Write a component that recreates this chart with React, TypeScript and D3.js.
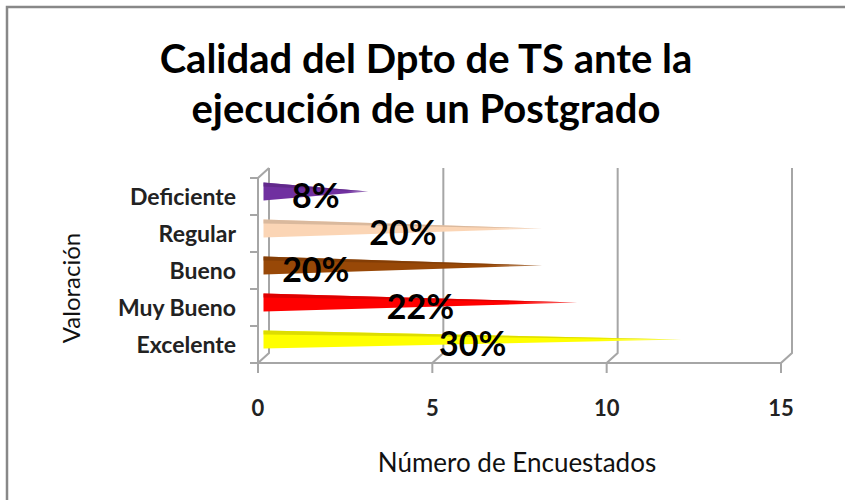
import React, { useEffect, useRef } from 'react';
import * as d3 from 'd3';

const categories = ['Deficiente', 'Regular', 'Bueno', 'Muy Bueno', 'Excelente'];
const respondents = [3, 8, 8, 9, 12];
const percentLabels = ['8%', '20%', '20%', '22%', '30%'];
const barColors = ['#7030A0', '#FBD5B5', '#984807', '#FF0000', '#FFFF00'];
const xTicks = [0, 5, 10, 15];
const titleLines = ['Calidad del Dpto de TS ante la', 'ejecución de un Postgrado'];

const App = () => {
  const ref = useRef<SVGSVGElement>(null);

  useEffect(() => {
    document.body.style.margin = '0';
    const svg = d3.select(ref.current);
    svg.selectAll('*').remove();

    const font = 'Lato, "Open Sans", sans-serif';
    const depth = { x: 11, y: -10 };
    const floorY = 363;

    const x = d3.scaleLinear().domain([0, 15]).range([258, 781]);
    const y = d3.scaleBand().domain(categories).range([178, floorY]);

    // outer frame, runs off the right and bottom edges
    svg.append('rect')
      .attr('x', 7).attr('y', 7)
      .attr('width', 900).attr('height', 600)
      .attr('fill', 'none')
      .attr('stroke', '#888')
      .attr('stroke-width', 2.5);

    svg.append('g')
      .selectAll('text')
      .data(titleLines)
      .join('text')
      .attr('x', 426)
      .attr('y', (d, i) => 73 + i * 50)
      .attr('text-anchor', 'middle')
      .attr('font-family', font)
      .attr('font-weight', 'bold')
      .attr('font-size', 40)
      .text(d => d);

    // walls and floor
    const grid = svg.append('g')
      .attr('fill', 'none')
      .attr('stroke', '#A6A6A6')
      .attr('stroke-width', 2);

    const top = y.range()[0];
    grid.selectAll('path.v')
      .data(xTicks)
      .join('path')
      .attr('class', 'v')
      .attr('d', t => `M${x(t)},${floorY + 10}L${x(t)},${floorY}L${x(t) + depth.x},${floorY + depth.y}L${x(t) + depth.x},${top + depth.y}`);

    grid.append('line')
      .attr('x1', x(0) - 8).attr('x2', x(15))
      .attr('y1', floorY).attr('y2', floorY);

    grid.append('path')
      .attr('d', `M${x(0)},${floorY + 10}L${x(0)},${top}L${x(0) + depth.x},${top + depth.y}`);

    const bounds = categories.map(c => y(c)!).concat([floorY]);
    grid.selectAll('line.tick')
      .data(bounds)
      .join('line')
      .attr('class', 'tick')
      .attr('x1', x(0) - 8).attr('x2', x(0))
      .attr('y1', d => d).attr('y2', d => d);

    // cone bars
    const defs = svg.append('defs');
    barColors.forEach((c, i) => {
      const g = defs.append('linearGradient').attr('id', `cone${i}`);
      g.append('stop').attr('offset', 0).attr('stop-color', c);
      g.append('stop').attr('offset', 0.8).attr('stop-color', c);
      g.append('stop').attr('offset', 1).attr('stop-color', d3.interpolateRgb(c, '#fff')(0.5));
    });

    const h = 18;
    const bars = svg.append('g');
    categories.forEach((c, i) => {
      const x0 = x(0) + depth.x / 2;
      const tip = x(respondents[i]) + depth.x / 2;
      const cy = y(c)! + y.bandwidth() / 2 + depth.y / 2;
      bars.append('path')
        .attr('d', `M${x0},${cy - h / 2}L${tip},${cy}L${x0},${cy + h / 2}Z`)
        .attr('fill', `url(#cone${i})`);
      bars.append('path')
        .attr('d', `M${x0},${cy - h / 2}L${tip},${cy}L${x0},${cy - h / 2 + 4}Z`)
        .attr('fill', d3.color(barColors[i])!.darker(0.5).formatHex())
        .attr('opacity', 0.8);
    });

    // data labels; the Bueno label sits left of centre in the original
    const labelNudge: Record<string, number> = { Bueno: -2.5 };
    svg.append('g')
      .selectAll('text')
      .data(categories)
      .join('text')
      .attr('x', (c, i) => x(respondents[i] / 2 + (labelNudge[c] || 0)) + depth.x / 2)
      .attr('y', c => y(c)! + y.bandwidth() / 2 + depth.y / 2 + 16)
      .attr('text-anchor', 'middle')
      .attr('font-family', font)
      .attr('font-weight', 'bold')
      .attr('font-size', 34)
      .text((c, i) => percentLabels[i]);

    // category axis
    svg.append('g')
      .selectAll('text')
      .data(categories)
      .join('text')
      .attr('x', 236)
      .attr('y', c => y(c)! + y.bandwidth() / 2)
      .attr('dy', '0.35em')
      .attr('text-anchor', 'end')
      .attr('font-family', font)
      .attr('font-weight', 'bold')
      .attr('font-size', 23)
      .attr('fill', '#222')
      .text(c => c);

    // value axis
    svg.append('g')
      .selectAll('text')
      .data(xTicks)
      .join('text')
      .attr('x', t => x(t))
      .attr('y', 408)
      .attr('dy', '0.35em')
      .attr('text-anchor', 'middle')
      .attr('font-family', font)
      .attr('font-weight', 'bold')
      .attr('font-size', 22)
      .attr('fill', '#222')
      .text(t => t);

    svg.append('text')
      .attr('x', 517).attr('y', 463)
      .attr('dy', '0.35em')
      .attr('text-anchor', 'middle')
      .attr('font-family', font)
      .attr('font-size', 26)
      .attr('fill', '#111')
      .text('Número de Encuestados');

    svg.append('text')
      .attr('transform', 'translate(72,288) rotate(-90)')
      .attr('dy', '0.35em')
      .attr('text-anchor', 'middle')
      .attr('font-family', font)
      .attr('font-size', 24)
      .attr('fill', '#111')
      .text('Valoración');
  }, []);

  return <svg ref={ref} width={845} height={500} style={{ display: 'block', background: '#fff' }} />;
};

export default App;
